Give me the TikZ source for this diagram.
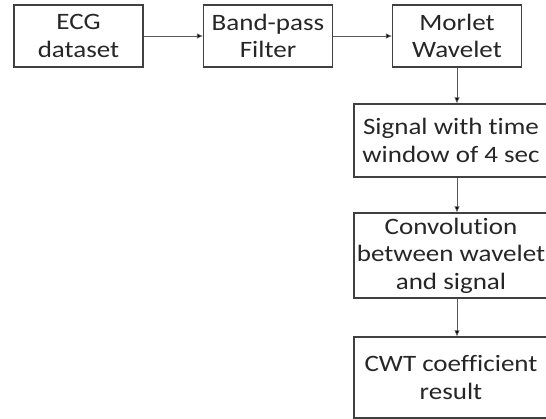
\documentclass[tikz,border=0pt]{standalone}
\usepackage{fontspec}
\setmainfont[Ligatures=NoCommon, FakeStretch=1.15]{Carlito}
\usetikzlibrary{arrows.meta, positioning}

\tikzset{
  blockbox/.style={draw=black!75, line width=1.1pt, align=center, inner sep=2pt,
    font=\fontsize{23.5}{27.5}\selectfont, text=black!85},
  flowarrow/.style={draw=black!65, line width=0.7pt, -{Latex[length=6pt, width=5.5pt, fill=black]}}
}

\begin{document}
\begin{tikzpicture}[x=1pt, y=1pt]
\useasboundingbox (0,0) rectangle (546,-419);
% top row
\node[blockbox, minimum width=129pt, minimum height=62pt] (ecg) at (78.5,-36) {ECG\\dataset};
\node[blockbox, minimum width=129pt, minimum height=62pt] (bpf) at (268,-36) {Band-pass\\Filter};
\node[blockbox, minimum width=129pt, minimum height=62pt] (morlet) at (457,-36) {Morlet\\Wavelet};
% right column
\node[blockbox, minimum width=194pt, minimum height=73pt] (sig) at (451,-140.5) {Signal with time\\window of 4 sec};
\node[blockbox, minimum width=194pt, minimum height=85pt] (conv) at (451,-255.5) {Convolution\\between wavelet\\and signal};
\node[blockbox, minimum width=194pt, minimum height=81pt] (cwt) at (451,-377.5) {CWT coefficient\\result};

\draw[flowarrow] (ecg) -- (bpf);
\draw[flowarrow] (bpf) -- (morlet);
\draw[flowarrow] (morlet.south) -- (morlet.south |- sig.north);
\draw[flowarrow] (morlet.south |- sig.south) -- (morlet.south |- conv.north);
\draw[flowarrow] (morlet.south |- conv.south) -- (morlet.south |- cwt.north);
\end{tikzpicture}
\end{document}
